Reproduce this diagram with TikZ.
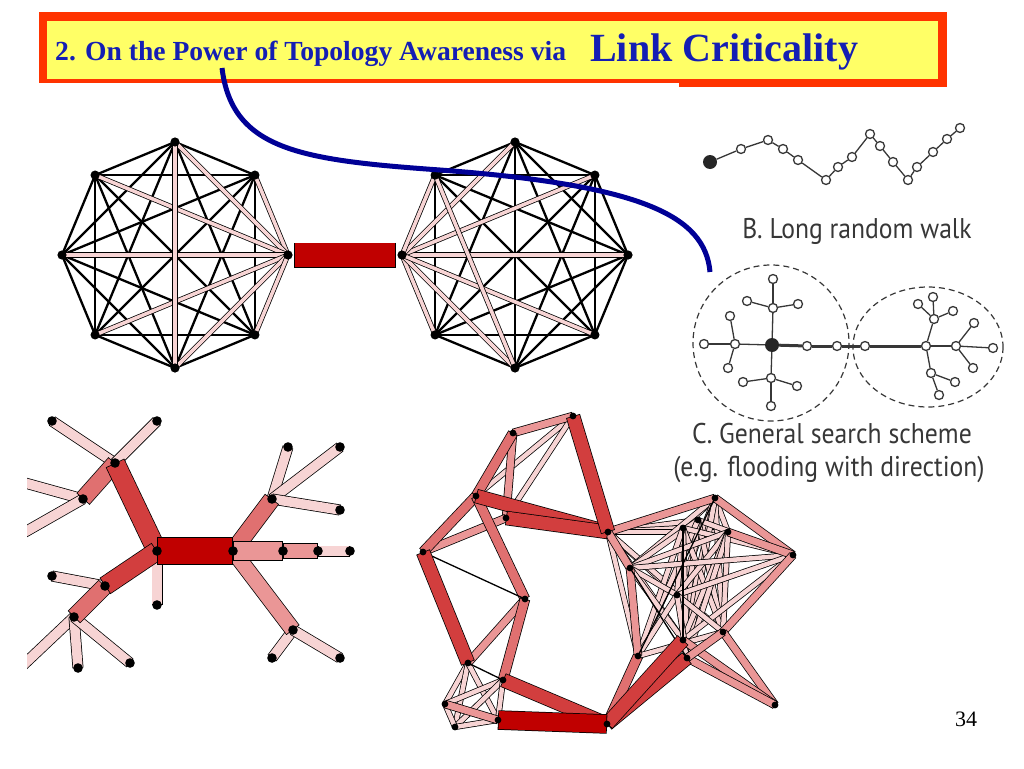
\documentclass[tikz,border=0pt]{standalone}
\usepackage{fontspec}
\setmainfont{Liberation Serif}
\newfontfamily\capfont[FakeStretch=0.9]{PT Sans}
\definecolor{titleblue}{RGB}{20,30,180}
\definecolor{navyline}{RGB}{0,0,150}
\definecolor{frame}{RGB}{255,51,0}
\definecolor{pad}{RGB}{255,255,102}
\definecolor{barcrit}{RGB}{192,0,0}
\definecolor{barhi}{RGB}{210,62,62}
\definecolor{barmid}{RGB}{224,112,112}
\definecolor{barlo}{RGB}{234,150,150}
\definecolor{barpale}{RGB}{247,212,212}
\definecolor{ink}{RGB}{55,55,55}
% a link drawn as a bar with a black rim
\newcommand{\lnk}[4]{%
  \draw[line width=#3pt+1.5pt](#1)--(#2);
  \draw[line width=#3pt,draw=#4,shorten <=0.8pt,shorten >=0.8pt](#1)--(#2);}
\begin{document}
\begin{tikzpicture}[x=1pt,y=-1pt,
    kedge/.style={line width=2.3pt},
    walk/.style={draw=ink,line width=1.3pt},
    hollow/.style={circle,draw=ink,fill=white,line width=1.3pt,inner sep=0pt,minimum size=9pt},
    bigdot/.style={circle,fill=black!85,inner sep=0pt,minimum size=14pt},
    lbl/.style={text=ink,font=\capfont\fontsize{28.5}{31}\selectfont}]
    \useasboundingbox(0,0)rectangle(1024,768);
    % title banner
    \fill[frame](39,12)rectangle(947,83);
    \fill[frame](679,83)rectangle(947,87);
    \fill[pad](47,21)rectangle(938,79);
    \node[anchor=base west,inner sep=0,text=titleblue,font=\bfseries\fontsize{27.6}{30}\selectfont](ttl)at(55,60){2. On the Power of Topology Awareness via};
    \node[anchor=base west,inner sep=0,text=titleblue,font=\bfseries\fontsize{40}{44}\selectfont](ttlkey)at(590,62){Link Criticality};
    % two cliques joined by one link
    \foreach \c/\x in {L/175,R/515}
        \foreach \i in {0,...,7}
            \coordinate(\c\i)at({\x+113*cos(45*\i)},{255-113*sin(45*\i)});
    \foreach \c in {L,R}
        \foreach \i in {0,...,6}{
            \pgfmathtruncatemacro\k{\i+1}
            \foreach \j in {\k,...,7}
                \draw[kedge](\c\i)--(\c\j);
        }
    \foreach \j in {1,...,7}{\lnk{L0}{L\j}{3.6}{barpale}}
    \foreach \j in {0,1,2,3,5,6,7}{\lnk{R4}{R\j}{3.6}{barpale}}
    \lnk{L2}{L6}{3.6}{barpale}
    \lnk{R3}{R6}{3.6}{barpale}
    \draw[line width=25pt,draw=black,shorten <=6pt,shorten >=6pt](L0)--(R4);
    \draw[line width=23.4pt,draw=barcrit,shorten <=6.8pt,shorten >=6.8pt](L0)--(R4);
    \foreach \c in {L,R}
        \foreach \i in {0,...,7}
            \fill(\c\i)circle(4.6);
    % tree
    \coordinate(tA)at(157,551);\coordinate(tB)at(233,551);
    \coordinate(tC)at(115,463);\coordinate(tD)at(83,499);
    \coordinate(tC1)at(52,421);\coordinate(tC2)at(157,421);
    \coordinate(tD1)at(18,481);\coordinate(tD2)at(18,536);
    \coordinate(tE)at(105,586);\coordinate(tF)at(74,617);
    \coordinate(tE1)at(52,576);\coordinate(tA1)at(157,605);
    \coordinate(tF1)at(18,670);\coordinate(tF2)at(78,668);\coordinate(tF3)at(130,663);
    \coordinate(tG)at(272,499);\coordinate(tG1)at(288,447);
    \coordinate(tG2)at(340,447);\coordinate(tG3)at(340,510);
    \coordinate(tH1)at(283,551);\coordinate(tH2)at(318,551);\coordinate(tH3)at(350,551);
    \coordinate(tI)at(293,630);\coordinate(tI1)at(272,658);\coordinate(tI2)at(340,658);
    \begin{scope}
        \clip(27,400)rectangle(400,700);
        \foreach \ea/\eb in {tC/tC1,tC/tC2,tD/tD1,tD/tD2,tE/tE1,tF/tF1,tF/tF2,tF/tF3,tA/tA1,tG/tG1,tG/tG2,tG/tG3,tI/tI1,tI/tI2,tH2/tH3}
            {\lnk{\ea}{\eb}{9.5}{barpale}}
        \lnk{tC}{tD}{16}{barmid}
        \lnk{tE}{tF}{16}{barmid}
        \lnk{tB}{tG}{16}{barmid}
        \lnk{tB}{tI}{15}{barlo}
        \lnk{tH1}{tH2}{14}{barlo}
        \lnk{tB}{tH1}{18}{barlo}
        \lnk{tA}{tC}{19}{barhi}
        \lnk{tA}{tE}{18}{barhi}
        \lnk{tA}{tB}{26}{barcrit}
        \foreach \n in {tA,tB,tC,tD,tE,tF,tC1,tC2,tD1,tD2,tE1,tA1,tF1,tF2,tF3,tG,tG1,tG2,tG3,tH1,tH2,tH3,tI,tI1,tI2}
            \fill(\n)circle(4.8);
    \end{scope}
    % mesh
    \foreach \n/\p in {g1/{573,416},g2/{513,433},g3/{476,496},g4/{506,518},g5/{608,532},
        g6/{423,552},g7/{525,599},g8/{468,663},g9/{503,680},g10/{445,704},g11/{455,727},
        g12/{498,720},g13/{607,724},g14/{715,498},g15/{698,520},g16/{683,528},g17/{728,532},
        g18/{793,555},g19/{630,568},g20/{677,595},g21/{723,632},g22/{683,640},g23/{638,656},
        g24/{687,658},g25/{775,705}}
        \coordinate(\n)at(\p);
    \foreach \ea/\eb in {g5/g15,g5/g16,g5/g17,g5/g20,g5/g21,g5/g22,g5/g23,
        g14/g16,g14/g17,g14/g19,g14/g20,g14/g21,g14/g22,g14/g24,
        g15/g18,g15/g19,g15/g21,g15/g22,g15/g23,
        g16/g18,g16/g20,g16/g21,g16/g24,g16/g23,
        g17/g19,g17/g20,g17/g22,g17/g24,g17/g21,
        g18/g19,g18/g22,g18/g20,g19/g20,g19/g22,
        g20/g21,g20/g23,g20/g24,g21/g23,g22/g24,
        g8/g10,g8/g11,g8/g12,g9/g10,g9/g11,g9/g12,g10/g11,g10/g12,g11/g12,
        g1/g3,g1/g4}
        {\lnk{\ea}{\eb}{4.5}{barpale}}
    \foreach \ea/\eb in {g5/g14,g5/g19,g14/g18,g17/g18,g18/g21,g21/g25,g22/g25,g24/g25,
        g21/g24,g19/g23,g1/g2,g2/g4,g6/g4,g7/g8,g10/g12}
        {\lnk{\ea}{\eb}{7}{barlo}}
    \foreach \ea/\eb in {g2/g3,g3/g6,g3/g7,g7/g9,g13/g23}
        {\lnk{\ea}{\eb}{9}{barmid}}
    \foreach \ea/\eb in {g6/g7,g8/g9,g19/g24,g16/g22,g14/g23}
        \draw[line width=1.3pt](\ea)--(\eb);
    \foreach \ea/\eb in {g3/g5,g4/g5,g1/g5,g6/g8,g9/g13,g13/g24,g13/g22}
        {\lnk{\ea}{\eb}{13}{barhi}}
    \lnk{g12}{g13}{18}{barcrit}
    \foreach \i in {1,...,25}
        \fill(g\i)circle(3.4);
    % random walk
    \node[bigdot](w0)at(710,162){};
    \foreach \n/\p in {w1/{741,149},w2/{768,140},w3/{783,149},w4/{798,160},w5/{826,180},
        w6/{838,167},w7/{852,157},w8/{870,134},w9/{880,146},w10/{893,162},w11/{908,180},
        w12/{917,167},w13/{933,152},w14/{947,139},w15/{960,128}}
        \node[hollow](\n)at(\p){};
    \draw[walk](w0)--(w1);
    \foreach \i in {1,...,14}{
        \pgfmathtruncatemacro\k{\i+1}
        \draw[walk](w\i)--(w\k);
    }
    \node[lbl](lblB)at(857,231){B. Long random walk};
    % search scheme
    \draw[ink,line width=1.2pt,dash pattern=on 6pt off 4pt](771,343)circle(78);
    \draw[ink,line width=1.2pt,dash pattern=on 6pt off 4pt](928,347)ellipse[x radius=75,y radius=60];
    \node[bigdot](sb)at(772,345){};
    \foreach \n/\p in {sl1/{735,344},sl2/{704,344},sl3/{730,316},sl4/{728,368},
        su1/{773,308},su2/{773,279},su3/{747,301},su4/{798,304},
        sd1/{771,378},sd2/{771,406},sd3/{743,382},sd4/{797,386},
        sr1/{807,346},sr2/{837,346},sr3/{865,346},h/{926,346},
        hu/{934,319},hu1/{918,304},hu2/{933,297},hu3/{953,311},
        hd/{931,373},hd1/{939,395},hd2/{955,382},
        hr/{956,346},hr1/{974,323},hr2/{993,348},hr3/{973,368}}
        \node[hollow](\n)at(\p){};
    \foreach \ea/\eb in {sb/sl1,sl1/sl2,sl1/sl3,sl1/sl4,sb/su1,su1/su2,su1/su3,su1/su4,
        sb/sd1,sd1/sd2,sd1/sd3,sd1/sd4,h/hu,hu/hu1,hu/hu2,hu/hu3,
        h/hd,hd/hd1,hd/hd2,h/hr,hr/hr1,hr/hr2,hr/hr3}
        \draw[walk](\ea)--(\eb);
    \draw[ink,line width=3pt](sb)--(sr1);
    \draw[ink,line width=3pt](sr1)--(sr2);
    \draw[ink,line width=3pt](sr2)--(sr3);
    \draw[ink,line width=3pt](sr3)--(h);
    \node[lbl](lblC)at(832,434){C. General search scheme};
    \node[lbl](lblC2)at(829,469){(e.g. flooding with direction)};
    % pointer from the title
    \coordinate(cA)at(222,68);
    \coordinate(cB)at(710,272);
    \draw[navyline,line width=5pt](cA)..controls(232,150)and(300,160)..(440,170)
        ..controls(640,185)and(705,215)..(cB);
    \node[anchor=base,font=\fontsize{22}{24}\selectfont](pg)at(966,726){34};
\end{tikzpicture}
\end{document}
